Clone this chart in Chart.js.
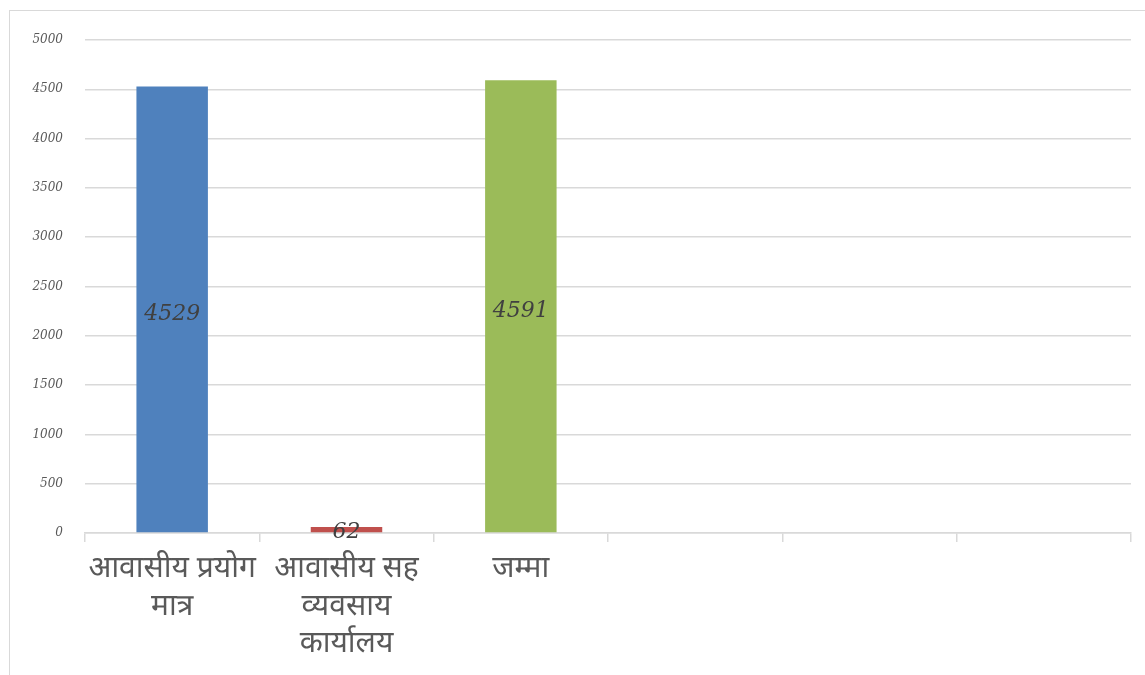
<!DOCTYPE html>
<html>
<head>
<meta charset="utf-8">
<script src="https://cdn.jsdelivr.net/npm/chart.js@4.4.0/dist/chart.umd.min.js"></script>
<style>
  html, body { margin: 0; padding: 0; background: #fff; }
  #wrap { position: absolute; left: 0; top: 0; width: 1145px; height: 675px; }
  #frame { position: absolute; left: 9px; top: 10px; width: 1200px; height: 700px;
           border-left: 1px solid #d9d9d9; border-top: 1px solid #d9d9d9; }
</style>
</head>
<body>
<div id="frame"></div>
<div id="wrap"><canvas id="myChart"></canvas></div>
<script>
// categories (last three are empty slots in the original sheet)
var categories = [
    ['आवासीय प्रयोग', 'मात्र'],
    ['आवासीय सह', 'व्यवसाय', 'कार्यालय'],
    'जम्मा',
    '', '', ''
];
var counts = [4529, 62, 4591, null, null, null];
var barColors = ['#4F81BD', '#C0504D', '#9BBB59', '#4F81BD', '#4F81BD', '#4F81BD'];
var yTicks = [0, 500, 1000, 1500, 2000, 2500, 3000, 3500, 4000, 4500, 5000];

/* value labels in the middle of each bar */
var barLabels = {
    id: 'barLabels',
    afterDatasetsDraw: function (chart) {
        var ctx = chart.ctx;
        var meta = chart.getDatasetMeta(0);
        ctx.save();
        ctx.font = 'italic 22px "DejaVu Serif", serif';
        ctx.fillStyle = '#404040';
        ctx.textAlign = 'center';
        ctx.textBaseline = 'middle';
        meta.data.forEach(function (bar, i) {
            var v = counts[i];
            if (v === null) return;
            var y = (bar.y + bar.base) / 2 + 5;
            if (bar.base - bar.y < 20) y = bar.base;
            ctx.fillText(String(v), bar.x, y);
        });
        ctx.restore();
    }
};

var ctx = document.getElementById('myChart').getContext('2d');
var chart = new Chart(ctx, {
    type: 'bar',
    data: {
        labels: categories,
        datasets: [{
            label: 'संख्या',
            data: counts,
            backgroundColor: barColors,
            categoryPercentage: 1,
            barPercentage: 0.41
        }]
    },
    options: {
        responsive: true,
        maintainAspectRatio: false,
        animation: false,
        layout: { padding: { left: 0, right: 14, top: 40, bottom: 0 } },
        plugins: {
            legend: { display: false },
            tooltip: { enabled: false }
        },
        scales: {
            x: {
                grid: {
                    offset: true,
                    drawOnChartArea: false,
                    tickLength: 9,
                    color: '#d9d9d9',
                    lineWidth: 1.5
                },
                border: { color: '#d9d9d9', width: 1.5 },
                ticks: {
                    autoSkip: false,
                    maxRotation: 0,
                    color: '#595959',
                    padding: 11,
                    font: { family: '"Noto Sans Devanagari", "Lohit Devanagari", "Noto Sans", sans-serif', size: 30, lineHeight: 1.25 }
                },
                afterFit: function (axis) { axis.height = 142; }
            },
            y: {
                min: 0,
                max: 5000,
                afterBuildTicks: function (axis) {
                    axis.ticks = yTicks.map(function (v) { return { value: v }; });
                },
                grid: { color: '#d9d9d9', lineWidth: 1.5, drawTicks: false },
                border: { display: false },
                ticks: {
                    color: '#595959',
                    padding: 22,
                    font: { family: '"DejaVu Serif", serif', style: 'italic', size: 12 },
                    callback: function (v) { return String(v); }
                },
                afterFit: function (axis) { axis.width = 85; }
            }
        }
    },
    plugins: [barLabels]
});
</script>
</body>
</html>
